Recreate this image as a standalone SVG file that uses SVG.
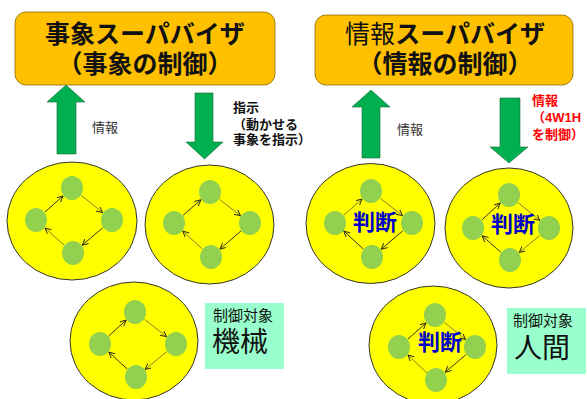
<svg xmlns="http://www.w3.org/2000/svg" width="587" height="399" viewBox="0 0 587 399">
<defs>
<marker id="ah" markerWidth="7" markerHeight="7" refX="6" refY="3" orient="auto" markerUnits="userSpaceOnUse">
<path d="M0,0 L6,3 L0,6" fill="none" stroke="#222" stroke-width="0.9"/>
</marker>
<style>
.sup{fill:#FFC000;stroke:#8a6a00;stroke-width:0.8}
.title{font-family:"Liberation Sans","Noto Sans CJK JP",sans-serif;font-size:25px;font-weight:bold;fill:#111;text-anchor:middle}
.big{fill:#00B050;stroke:#1a6a3a;stroke-width:0.6}
.lbl{font-family:"Liberation Sans","Noto Sans CJK JP",sans-serif;font-size:13px;fill:#333}
.lblb{font-family:"Liberation Sans","Noto Sans CJK JP",sans-serif;font-size:13px;font-weight:bold;fill:#111}
.red{fill:#FF0000}
.sys{fill:#FFFF00;stroke:#333;stroke-width:1}
.nd{fill:#92D050}
.lnk{stroke:#222;stroke-width:0.9;fill:none;marker-end:url(#ah)}
.lt{stroke:#7a7030}
.jd{font-family:"Liberation Sans","Noto Sans CJK JP",sans-serif;font-size:22px;font-weight:bold;fill:#0000CC;text-anchor:middle}
.tb{fill:#99FFCC}
.t1{font-family:"Liberation Sans","Noto Sans CJK JP",sans-serif;font-size:15px;fill:#111}
.t2{font-family:"Liberation Sans","Noto Sans CJK JP",sans-serif;font-size:28px;fill:#111}
</style>
</defs>

<g id="event-supervisor">
<rect class="sup" x="15" y="12" width="260" height="73" rx="11"/>
<text class="title" x="145" y="42.5">事象スーパバイザ</text>
<text class="title" x="145" y="72.5">（事象の制御）</text>
</g>

<g id="info-supervisor">
<rect class="sup" x="315" y="15" width="258" height="70" rx="11"/>
<text class="title" x="445" y="43"><tspan font-weight="normal">情報</tspan>スーパバイザ</text>
<text class="title" x="445" y="73">（情報の制御）</text>
</g>

<g id="arrows">
<polygon class="big" points="66,85 85,102 76,102 76,154 57,154 57,102 47,102"/>
<polygon class="big" points="195,93 213,93 213,142 223,142 204.5,159 186,142 195,142"/>
<polygon class="big" points="371,90 390,107 380,107 380,158 362,158 362,107 352,107"/>
<polygon class="big" points="500,98 520,98 520,147 528,147 509,163 490,147 500,147"/>
<text class="lbl" x="92" y="131.5">情報</text>
<text class="lblb" x="233" y="112">指示</text>
<text class="lblb" x="233" y="128.5">（動かせる</text>
<text class="lblb" x="233" y="144">事象を指示）</text>
<text class="lbl" x="397" y="134">情報</text>
<text class="lblb red" x="532" y="105">情報</text>
<text class="lblb red" x="532" y="122">（4W1H</text>
<text class="lblb red" x="532" y="139">を制御）</text>
</g>

<g id="system1">
<ellipse class="sys" cx="72" cy="221" rx="65" ry="59"/>
<ellipse class="nd" cx="72" cy="188" rx="11" ry="12"/>
<ellipse class="nd" cx="36" cy="220" rx="11" ry="12"/>
<ellipse class="nd" cx="112" cy="220" rx="11" ry="12"/>
<ellipse class="nd" cx="73" cy="253" rx="11" ry="12"/>
<line class="lnk" x1="45" y1="212" x2="63" y2="196"/>
<line class="lnk lt" x1="81.4" y1="195.5" x2="102.6" y2="212.5"/>
<line class="lnk" x1="102.8" y1="227.8" x2="82.2" y2="245.2"/>
<line class="lnk lt" x1="64" y1="245" x2="45" y2="228"/>
</g>

<g id="system2">
<ellipse class="sys" cx="209.5" cy="224.5" rx="64.5" ry="59.5"/>
<ellipse class="nd" cx="210" cy="192" rx="11" ry="12"/>
<ellipse class="nd" cx="174" cy="223" rx="11" ry="12"/>
<ellipse class="nd" cx="250" cy="223" rx="11" ry="12"/>
<ellipse class="nd" cx="211" cy="257" rx="11" ry="12"/>
<line class="lnk" x1="183.1" y1="215.2" x2="200.9" y2="199.8"/>
<line class="lnk lt" x1="219.5" y1="199.3" x2="240.5" y2="215.7"/>
<line class="lnk" x1="241" y1="230.9" x2="220" y2="249.1"/>
<line class="lnk lt" x1="202.2" y1="248.9" x2="182.8" y2="231.1"/>
</g>

<g id="system3">
<ellipse class="sys" cx="134" cy="341" rx="64" ry="59"/>
<ellipse class="nd" cx="135" cy="312" rx="11" ry="12"/>
<ellipse class="nd" cx="100" cy="344" rx="11" ry="12"/>
<ellipse class="nd" cx="176" cy="344" rx="11" ry="12"/>
<ellipse class="nd" cx="136" cy="377" rx="11" ry="12"/>
<line class="lnk" x1="108.9" y1="335.9" x2="126.1" y2="320.1"/>
<line class="lnk lt" x1="144.5" y1="319.4" x2="166.5" y2="336.6"/>
<line class="lnk lt" x1="166.8" y1="351.6" x2="145.2" y2="369.4"/>
<line class="lnk" x1="127.1" y1="368.9" x2="108.9" y2="352.1"/>
</g>

<g id="target-machine">
<rect class="tb" x="205" y="303" width="79" height="66"/>
<text class="t1" x="213" y="320.5">制御対象</text>
<text class="t2" x="212" y="352">機械</text>
</g>

<g id="system4">
<ellipse class="sys" cx="370.5" cy="223.5" rx="64.5" ry="60"/>
<ellipse class="nd" cx="371" cy="191" rx="11" ry="12"/>
<ellipse class="nd" cx="335" cy="223" rx="11" ry="12"/>
<ellipse class="nd" cx="412" cy="223" rx="11" ry="12"/>
<ellipse class="nd" cx="372" cy="257" rx="11" ry="12"/>
<line class="lnk lt" x1="344" y1="215" x2="362" y2="199"/>
<line class="lnk lt" x1="380.5" y1="198.4" x2="402.5" y2="215.6"/>
<line class="lnk" x1="402.8" y1="230.8" x2="381.2" y2="249.2"/>
<line class="lnk" x1="363.2" y1="248.9" x2="343.8" y2="231.1"/>
<text class="jd" x="375" y="230">判断</text>
</g>

<g id="system5">
<ellipse class="sys" cx="509" cy="228" rx="64" ry="60"/>
<ellipse class="nd" cx="509" cy="195" rx="11" ry="12"/>
<ellipse class="nd" cx="473" cy="228" rx="11" ry="12"/>
<ellipse class="nd" cx="549" cy="228" rx="11" ry="12"/>
<ellipse class="nd" cx="510" cy="260" rx="11" ry="12"/>
<line class="lnk" x1="481.9" y1="219.9" x2="500.1" y2="203.1"/>
<line class="lnk lt" x1="518.2" y1="202.6" x2="539.8" y2="220.4"/>
<line class="lnk lt" x1="539.7" y1="235.6" x2="519.3" y2="252.4"/>
<line class="lnk" x1="500.9" y1="252.2" x2="482.1" y2="235.8"/>
<text class="jd" x="513" y="232">判断</text>
</g>

<g id="system6">
<ellipse class="sys" cx="433" cy="345" rx="64" ry="59"/>
<ellipse class="nd" cx="435" cy="315" rx="11" ry="12"/>
<ellipse class="nd" cx="399" cy="347" rx="11" ry="12"/>
<ellipse class="nd" cx="475" cy="347" rx="11" ry="12"/>
<ellipse class="nd" cx="436" cy="380" rx="11" ry="12"/>
<line class="lnk" x1="408" y1="339" x2="426" y2="323"/>
<line class="lnk lt" x1="444.4" y1="322.5" x2="465.6" y2="339.5"/>
<line class="lnk" x1="465.8" y1="354.8" x2="445.2" y2="372.2"/>
<line class="lnk lt" x1="427" y1="373" x2="408" y2="355"/>
<text class="jd" x="440" y="350">判断</text>
</g>

<g id="target-human">
<rect class="tb" x="507" y="308" width="79" height="66"/>
<text class="t1" x="513" y="326">制御対象</text>
<text class="t2" x="514" y="358">人間</text>
</g>
</svg>
